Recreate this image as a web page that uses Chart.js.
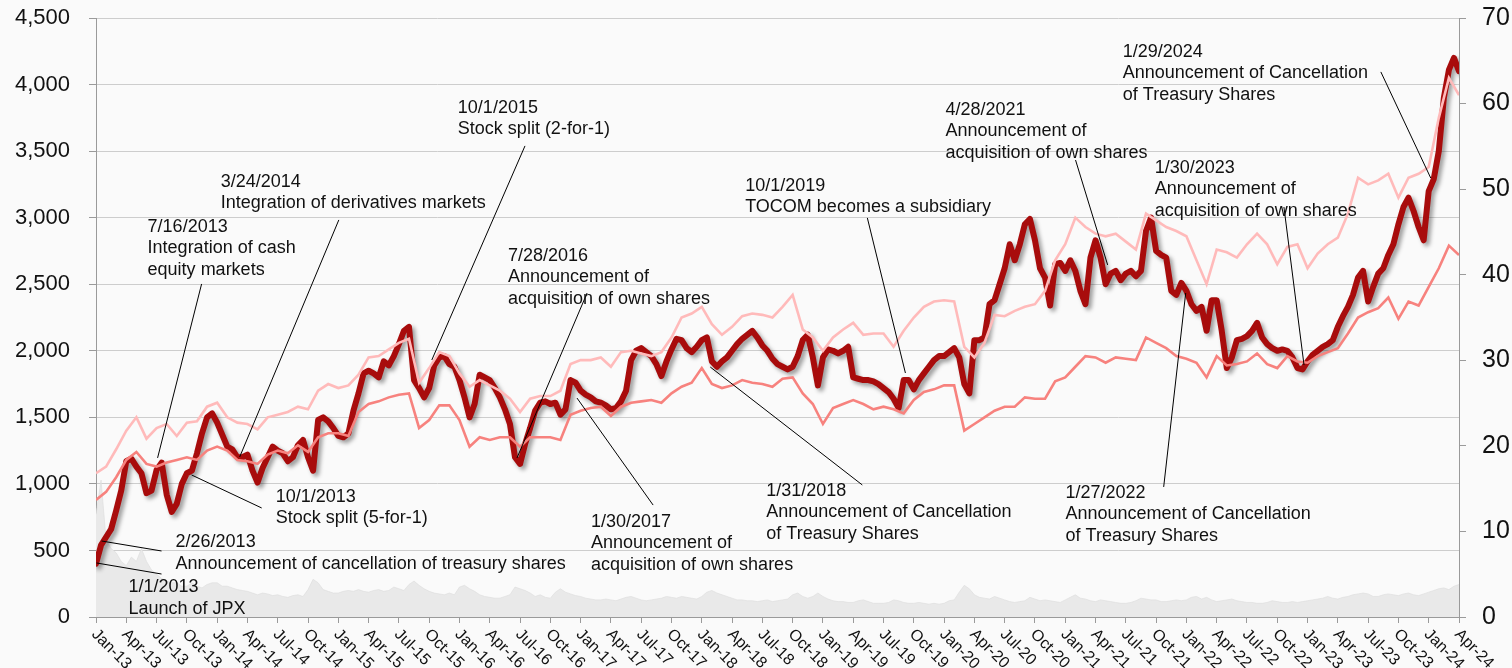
<!DOCTYPE html>
<html><head><meta charset="utf-8">
<script src="https://cdn.jsdelivr.net/npm/chart.js@4.4.1/dist/chart.umd.min.js"></script>
<style>html,body{margin:0;padding:0;background:#fafafa;} canvas{display:block}</style>
</head><body>
<canvas id="c" width="1512" height="668" style="width:1512px;height:668px"></canvas>
<script>
// ---------- DATA ----------
// quarter tick labels (x = months since Jan-2013, one every 3 months)
const quarterLabels = ['Jan-13','Apr-13','Jul-13','Oct-13','Jan-14','Apr-14','Jul-14','Oct-14',
 'Jan-15','Apr-15','Jul-15','Oct-15','Jan-16','Apr-16','Jul-16','Oct-16',
 'Jan-17','Apr-17','Jul-17','Oct-17','Jan-18','Apr-18','Jul-18','Oct-18',
 'Jan-19','Apr-19','Jul-19','Oct-19','Jan-20','Apr-20','Jul-20','Oct-20',
 'Jan-21','Apr-21','Jul-21','Oct-21','Jan-22','Apr-22','Jul-22','Oct-22',
 'Jan-23','Apr-23','Jul-23','Oct-23','Jan-24','Apr-24'];
const leftTicks = [0,500,1000,1500,2000,2500,3000,3500,4000,4500];
const rightTicks = [0,10,20,30,40,50,60,70];

// JPX share price (left axis), every half month from Jan-2013
const jpxPrice = [
400,540,600,660,800,950,1170,1190,1130,1080,930,950,1105,1160,920,790,850,1000,1080,1100,1230,1380,1500,1530,
1460,1370,1280,1260,1200,1200,1220,1100,1010,1120,1200,1280,1250,1230,1170,1200,1290,1330,1200,1100,1480,1500,1470,1420,
1360,1350,1380,1550,1680,1830,1850,1830,1800,1920,1890,1960,2050,2150,2180,1780,1720,1650,1720,1890,1950,1960,1900,1880,
1780,1650,1500,1600,1820,1800,1780,1720,1650,1560,1450,1200,1150,1300,1420,1550,1610,1620,1600,1610,1520,1560,1780,1760,
1700,1670,1650,1620,1610,1590,1560,1570,1620,1700,1930,2000,2020,1990,1960,1900,1810,1920,2010,2090,2080,2020,1990,2030,
2080,2100,1920,1880,1920,1950,2000,2050,2090,2120,2150,2100,2040,2000,1940,1900,1880,1860,1880,1960,2080,2120,1950,1740,
1950,2010,2000,1980,2000,2030,1800,1790,1780,1780,1770,1750,1720,1690,1640,1570,1780,1780,1710,1780,1830,1880,1930,1960,
1960,1990,2020,1950,1750,1680,2080,2080,2100,2350,2380,2500,2620,2800,2680,2800,2950,2990,2830,2620,2550,2340,2650,2660,
2600,2680,2600,2450,2350,2700,2830,2700,2500,2580,2600,2530,2580,2600,2560,2600,2900,3000,2750,2720,2700,2450,2420,2510,
2450,2350,2300,2330,2150,2380,2380,2150,1870,1950,2080,2090,2110,2150,2210,2100,2050,2020,2000,2010,2000,1950,1870,1860,
1920,1970,2000,2030,2050,2080,2180,2260,2330,2420,2550,2600,2370,2480,2580,2620,2720,2800,2950,3080,3150,3050,2930,2830,
3200,3290,3500,3900,4110,4200,4100];

// light pink index line (left-axis scale), monthly from Jan-2013
const lightIndex = [
1080,1130,1260,1400,1500,1340,1420,1450,1360,1460,1470,1580,
1610,1500,1460,1450,1410,1500,1520,1540,1580,1560,1700,1750,
1720,1740,1820,1950,1960,2010,2060,2090,1760,1870,1990,1960,
1830,1730,1780,1740,1700,1640,1540,1640,1660,1660,1700,1900,
1930,1930,1950,1880,1990,2000,1980,1960,1990,2100,2250,2280,
2330,2200,2120,2180,2260,2280,2270,2250,2330,2420,2160,2100,
2000,2100,2160,2210,2120,2130,2130,2030,2150,2250,2330,2370,
2380,2370,2030,1950,2060,2270,2260,2300,2330,2350,2450,2680,
2800,3000,2930,2880,2860,2880,2820,2760,3030,2980,2930,2900,
2860,2680,2500,2760,2740,2700,2800,2880,2800,2650,2780,2800,
2620,2730,2800,2850,3030,3300,3250,3280,3330,3150,3300,3330,
3380,3750,4050,3920];

// salmon index line (left-axis scale), monthly from Jan-2013
const salmonIndex = [
880,940,1050,1180,1240,1150,1130,1160,1180,1200,1180,1250,
1280,1250,1180,1170,1150,1220,1250,1230,1290,1240,1350,1380,
1380,1360,1540,1600,1620,1650,1670,1680,1420,1480,1590,1590,
1480,1280,1350,1330,1350,1350,1280,1350,1350,1350,1330,1520,
1550,1570,1580,1510,1580,1610,1620,1630,1610,1680,1730,1760,
1870,1750,1720,1740,1780,1760,1750,1730,1790,1800,1680,1600,
1450,1570,1600,1630,1600,1560,1580,1560,1530,1630,1690,1710,
1740,1740,1400,1450,1500,1550,1580,1580,1650,1640,1640,1770,
1800,1880,1960,1950,1910,1950,1940,1930,2100,2060,2020,1960,
1940,1910,1800,1960,1890,1900,1920,1980,1900,1870,1960,1920,
1910,1960,1990,2020,2130,2250,2290,2320,2400,2240,2370,2340,
2480,2620,2790,2720];

// trading volume (right axis), every half month from Jan-2013
const volume = [
12,16,9,8,7.5,6.5,6,7,6.5,8,6.5,5.5,5,4.5,4.2,4,4,3.6,3.6,4,3.6,3.4,3.8,4,
4,3.6,3.6,3.4,3.2,3.1,3,2.8,2.6,2.8,2.7,2.5,2.6,2.4,2.3,2.5,2.6,2.4,3.2,4.4,4,3.2,3,2.8,
2.8,3,3.1,3,3.2,3,2.9,3.1,3.2,3,3.1,3.5,3.3,3.1,3.8,4.2,3.7,3.3,3,2.8,2.7,2.6,2.8,2.6,
3.5,3.7,3.3,3,2.6,2.4,2.3,2.2,2.2,2.4,2.6,3.5,3.3,3.1,2.8,2.4,2.6,2.3,2.2,2.9,3.3,2.9,2.7,2.5,
2.4,2.2,2.1,2,2,2.1,2,1.9,2.1,2.3,2.4,2.2,2,1.9,2,2.1,2.2,2.4,2.3,2.2,2.4,2.3,2.2,2.1,
2.4,2.9,3.1,2.8,2.6,2.4,2.2,2,2,1.9,1.9,1.8,1.9,2,1.8,1.9,2,2.1,2.6,2.8,2.4,2.2,2.4,2.8,
2.4,2.1,1.9,1.8,1.8,1.7,1.7,1.9,2,1.8,1.6,1.6,1.6,1.7,2,1.9,1.7,1.6,1.6,1.7,1.6,1.5,1.6,1.5,
1.6,1.9,2,2.9,3.7,3.3,2.6,2.3,2.2,2.1,2.4,2.2,2,1.8,1.7,1.8,1.9,2.3,2.1,1.9,2,1.9,1.8,1.7,
2,2.3,2.6,2.2,2.1,1.9,1.8,2,1.9,1.8,1.7,1.6,1.6,1.7,1.9,2.2,2.1,2,2,1.8,1.8,1.9,2,1.9,
2,2.3,2.4,2.1,2.3,2,1.8,1.9,2,2.1,1.9,1.8,1.7,1.7,1.6,1.6,1.7,1.9,1.8,1.7,1.7,1.8,1.7,1.8,
1.9,2,2.1,2.2,2.4,2.2,2.1,2.3,2.4,2.6,2.7,2.8,2.7,2.4,2.4,2.6,2.7,2.6,2.5,2.7,2.8,2.6,2.5,2.7,
2.9,3.1,3.3,3.4,3.2,3.6,3.8];

// annotations: text lines, label anchor [month, value], leader line from/to [month, value]
const annotations = [
 {lines:['1/1/2013','Launch of JPX'], label:[3.22,225], from:[0.05,406], to:[6.49,323]},
 {lines:['2/26/2013','Announcement of cancellation of treasury shares'], label:[7.88,563], from:[0.55,571], to:[6.49,496]},
 {lines:['7/16/2013','Integration of cash','equity markets'], label:[5.11,2930], from:[6.1,1195], to:[10.46,2502]},
 {lines:['3/24/2014','Integration of derivatives markets'], label:[12.35,3268], from:[14.23,1202], to:[24.05,2983]},
 {lines:['10/1/2013','Stock split (5-for-1)'], label:[17.8,902], from:[9.47,1067], to:[16.41,819]},
 {lines:['10/1/2015','Stock split (2-for-1)'], label:[35.84,3824], from:[33.26,1931], to:[42.49,3539]},
 {lines:['7/28/2016','Announcement of','acquisition of own shares'], label:[40.8,2712], from:[41.7,1195], to:[48.64,2434]},
 {lines:['1/30/2017','Announcement of','acquisition of own shares'], label:[49.03,714], from:[47.64,1645], to:[55.18,841]},
 {lines:['1/31/2018','Announcement of Cancellation','of Treasury Shares'], label:[66.39,947], from:[60.84,1878], to:[75.9,992]},
 {lines:['10/1/2019','TOCOM becomes a subsidiary'], label:[64.3,3238], from:[80.17,1833], to:[76.4,2998]},
 {lines:['4/28/2021','Announcement of','acquisition of own shares'], label:[84.13,3809], from:[100.2,2645], to:[97.02,3433]},
 {lines:['1/27/2022','Announcement of Cancellation','of Treasury Shares'], label:[96.03,932], from:[107.93,2434], to:[105.75,977]},
 {lines:['1/30/2023','Announcement of','acquisition of own shares'], label:[104.86,3373], from:[119.65,1893], to:[117.66,3080]},
 {lines:['1/29/2024','Announcement of Cancellation','of Treasury Shares'], label:[101.7,4245], from:[132.2,3298], to:[127.26,4095]}
];

// ---------- CHART ----------
const FONT = "'Liberation Sans', Arial, sans-serif";
const halfMonth = arr => arr.map((v,i)=>({x:i*0.5, y:v}));
const monthly = arr => arr.map((v,i)=>({x:i, y:v}));

const bgPlugin = {id:'bg', beforeDraw(c){const ctx=c.ctx; ctx.save(); ctx.fillStyle='#fafafa'; ctx.fillRect(0,0,c.width,c.height); ctx.restore();}};
const shadowPlugin = {id:'shadow',
 beforeDatasetDraw(c,args){ if(c.data.datasets[args.index].shadow){ const ctx=c.ctx; ctx.save(); ctx.shadowColor='rgba(0,0,0,0.38)'; ctx.shadowBlur=4; ctx.shadowOffsetX=3; ctx.shadowOffsetY=3; } },
 afterDatasetDraw(c,args){ if(c.data.datasets[args.index].shadow){ c.ctx.restore(); } }
};
const xLabelPlugin = {id:'xlabels', afterDraw(c){
 const xs=c.scales.x, ctx=c.ctx; ctx.save(); ctx.font='16px '+FONT; ctx.fillStyle='#111'; ctx.textAlign='left'; ctx.textBaseline='middle';
 quarterLabels.forEach((lab,i)=>{ const px=xs.getPixelForValue(i*3); ctx.save(); ctx.translate(px-2, xs.top+15); ctx.rotate(Math.PI/4); ctx.fillText(lab,0,0); ctx.restore(); });
 ctx.restore(); }};
const annPlugin = {id:'ann', afterDatasetsDraw(c){
 const xs=c.scales.x, ys=c.scales.y, ctx=c.ctx; ctx.save();
 ctx.strokeStyle='#000'; ctx.lineWidth=1;
 annotations.forEach(a=>{ ctx.beginPath(); ctx.moveTo(xs.getPixelForValue(a.from[0]), ys.getPixelForValue(a.from[1])); ctx.lineTo(xs.getPixelForValue(a.to[0]), ys.getPixelForValue(a.to[1])); ctx.stroke(); });
 ctx.font='18px '+FONT; ctx.fillStyle='#111'; ctx.textAlign='left'; ctx.textBaseline='middle';
 annotations.forEach(a=>{ const x=xs.getPixelForValue(a.label[0]), y=ys.getPixelForValue(a.label[1]); a.lines.forEach((t,i)=>ctx.fillText(t,x,y+i*21.5)); });
 ctx.restore(); }};

const noPad = s => { s.paddingTop = 0; s.paddingBottom = 0; };

new Chart(document.getElementById('c'), {
 type:'line',
 data:{datasets:[
  {data:monthly(salmonIndex), borderColor:'#f7827e', borderWidth:2.6, pointRadius:0, tension:0, yAxisID:'y'},
  {data:monthly(lightIndex), borderColor:'#ffbaba', borderWidth:2.6, pointRadius:0, tension:0, yAxisID:'y'},
  {data:halfMonth(jpxPrice), borderColor:'#a80c0c', borderWidth:6, pointRadius:0, tension:0, yAxisID:'y', shadow:true, borderJoinStyle:'round', borderCapStyle:'round'},
  {data:halfMonth(volume), borderColor:'#dcdcdc', borderWidth:0.6, backgroundColor:'#e9e9e9', fill:'origin', pointRadius:0, tension:0, yAxisID:'y2'}
 ]},
 options:{
  responsive:false, animation:false, parsing:false, normalized:true,
  layout:{padding:{top:18,left:0,right:0,bottom:0}},
  plugins:{legend:{display:false}, tooltip:{enabled:false}},
  scales:{
   x:{type:'linear', min:0, max:135,
      afterBuildTicks:s=>{ s.ticks = quarterLabels.map((l,i)=>({value:i*3})); },
      afterFit:s=>{ s.height = 51; s.paddingLeft = 0; s.paddingRight = 0; },
      ticks:{display:false},
      grid:{drawOnChartArea:false, drawTicks:true, tickLength:6, tickColor:'#9a9a9a', tickWidth:1},
      border:{display:true, color:'#9a9a9a', width:1}},
   y:{position:'left', min:0, max:4500,
      afterBuildTicks:s=>{ s.ticks = leftTicks.map(v=>({value:v})); },
      afterFit:s=>{ s.width = 96; noPad(s); },
      ticks:{padding:19, color:'#111', font:{family:FONT, size:22}, callback:v=>v.toLocaleString('en-US')},
      grid:{color:'#cdcdcd', lineWidth:1, borderDash:[1,2], tickLength:7, tickColor:'#9a9a9a', tickBorderDash:[], tickWidth:1},
      border:{display:true, color:'#9a9a9a', width:1}},
   y2:{position:'right', min:0, max:70,
      afterBuildTicks:s=>{ s.ticks = rightTicks.map(v=>({value:v})); },
      afterFit:s=>{ s.width = 53; noPad(s); },
      ticks:{padding:16, color:'#111', font:{family:FONT, size:25}},
      grid:{drawOnChartArea:false, tickLength:7, tickColor:'#9a9a9a', tickWidth:1},
      border:{display:true, color:'#9a9a9a', width:1}}
  }
 },
 plugins:[bgPlugin, shadowPlugin, annPlugin, xLabelPlugin]
});
</script></body></html>
